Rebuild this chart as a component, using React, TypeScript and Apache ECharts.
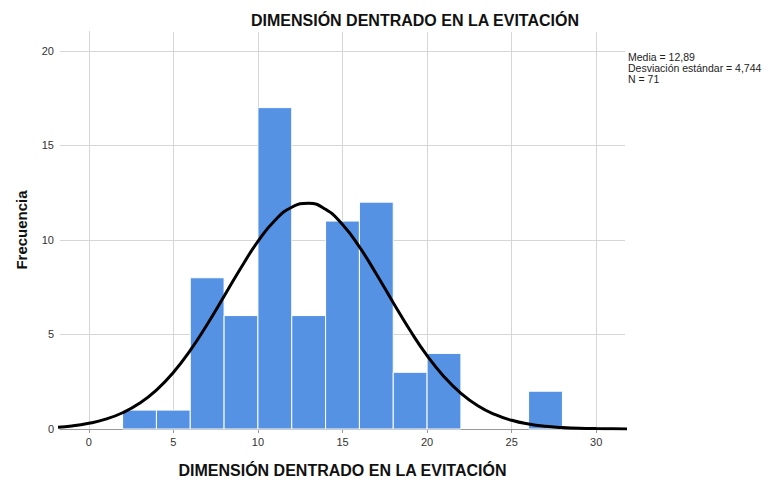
import React, { useEffect, useRef } from "react";
import * as echarts from "echarts";

const chartTitle = "DIMENSIÓN DENTRADO EN LA EVITACIÓN";
const xTitle = "DIMENSIÓN DENTRADO EN LA EVITACIÓN";
const yTitle = "Frecuencia";
const statsLines = ["Media = 12,89", "Desviación estándar = 4,744", "N = 71"];

const binWidth = 2;
const binStarts = [2, 4, 6, 8, 10, 12, 14, 16, 18, 20, 22, 24, 26];
const counts = [1, 1, 8, 6, 17, 6, 11, 12, 3, 4, 0, 0, 2];

const xTicks = [0, 5, 10, 15, 20, 25, 30];
const yTicks = [0, 5, 10, 15, 20];

// normal curve at integer x
const curveX = [-2, -1, 0, 1, 2, 3, 4, 5, 6, 7, 8, 9, 10, 11, 12, 13, 14, 15, 16, 17, 18, 19, 20, 21, 22, 23, 24, 25, 26, 27, 28, 29, 30, 31, 32];
const curveY = [0.09, 0.16, 0.3, 0.52, 0.86, 1.36, 2.06, 2.99, 4.16, 5.53, 7.02, 8.53, 9.92, 11.03, 11.73, 11.94, 11.62, 10.82, 9.63, 8.2, 6.68, 5.21, 3.88, 2.77, 1.89, 1.23, 0.77, 0.46, 0.26, 0.14, 0.08, 0.04, 0.02, 0.01, 0.0];

const FONT = "Liberation Sans, Arial, sans-serif";

export default function App() {
  const ref = useRef<HTMLDivElement>(null);
  useEffect(() => {
    if (!ref.current) return;
    const chart = echarts.init(ref.current, undefined, { renderer: "svg" });
    const gridColor = "#d6d6d6";
    chart.setOption({
      animation: false,
      textStyle: { fontFamily: FONT },
      grid: { left: 60, top: 32, width: 565, height: 397, containLabel: false },
      xAxis: {
        type: "value",
        min: -1.7,
        max: 31.7,
        splitLine: { show: false },
        axisLine: { show: true, lineStyle: { color: "#999", width: 1 } },
        axisTick: { show: true, length: 4, lineStyle: { color: "#999" }, customValues: xTicks },
        axisLabel: {
          customValues: xTicks,
          formatter: (v: number) => (xTicks.includes(v) ? String(v) : ""),
          color: "#333",
          fontSize: 11,
          margin: 7,
          fontFamily: FONT,
        },
      },
      yAxis: {
        type: "value",
        min: 0,
        max: 21,
        splitLine: { show: false },
        axisLine: { show: true, lineStyle: { color: "#999", width: 1 } },
        axisTick: { show: true, length: 5, lineStyle: { color: "#999" }, customValues: yTicks },
        axisLabel: {
          customValues: yTicks,
          formatter: (v: number) => (yTicks.includes(v) ? String(v) : ""),
          color: "#333",
          fontSize: 11,
          margin: 6,
          fontFamily: FONT,
        },
      },
      series: [
        {
          type: "custom",
          z: 2,
          encode: { x: [0, 1], y: 2 },
          data: binStarts.map((s, i) => [s, s + binWidth, counts[i]]),
          renderItem: (params: any, api: any) => {
            const c = api.value(2);
            if (!c) return null;
            const p0 = api.coord([api.value(0), c]);
            const p1 = api.coord([api.value(1), 0]);
            return {
              type: "rect",
              shape: { x: p0[0], y: p0[1], width: p1[0] - p0[0], height: p1[1] - p0[1] },
              style: { fill: "#5592e3", stroke: "#ffffff", lineWidth: 1 },
            };
          },
          markLine: {
            silent: true,
            z: 1,
            symbol: ["none", "none"],
            label: { show: false },
            lineStyle: { color: gridColor, width: 1, type: "solid" },
            data: [
              ...xTicks.map((x) => ({ xAxis: x })),
              ...yTicks.filter((y) => y > 0).map((y) => ({ yAxis: y })),
            ],
          },
        },
        {
          type: "line",
          z: 3,
          data: curveX.map((x, i) => [x, curveY[i]]),
          smooth: true,
          symbol: "none",
          clip: true,
          lineStyle: { color: "#000", width: 3 },
        },
      ],
      graphic: [
        {
          type: "text",
          x: 415,
          y: 20,
          style: {
            text: chartTitle,
            fontSize: 16,
            fontWeight: "bold",
            fontFamily: FONT,
            fill: "#111",
            align: "center",
            verticalAlign: "middle",
          },
        },
        {
          type: "text",
          x: 342.5,
          y: 470,
          style: {
            text: xTitle,
            fontSize: 16,
            fontWeight: "bold",
            fontFamily: FONT,
            fill: "#111",
            align: "center",
            verticalAlign: "middle",
          },
        },
        {
          type: "text",
          x: 21,
          y: 230,
          rotation: Math.PI / 2,
          style: {
            text: yTitle,
            fontSize: 15,
            fontWeight: "bold",
            fontFamily: FONT,
            fill: "#111",
            align: "center",
            verticalAlign: "middle",
          },
        },
        ...statsLines.map((line, i) => ({
          type: "text",
          x: 628,
          y: 51 + i * 11,
          style: {
            text: line,
            fontSize: 10.5,
            fontFamily: FONT,
            fill: "#222",
            align: "left",
            verticalAlign: "top",
          },
        })),
      ],
    });
    return () => chart.dispose();
  }, []);
  return <div ref={ref} style={{ position: "absolute", left: 0, top: 0, width: 775, height: 482 }} />;
}
